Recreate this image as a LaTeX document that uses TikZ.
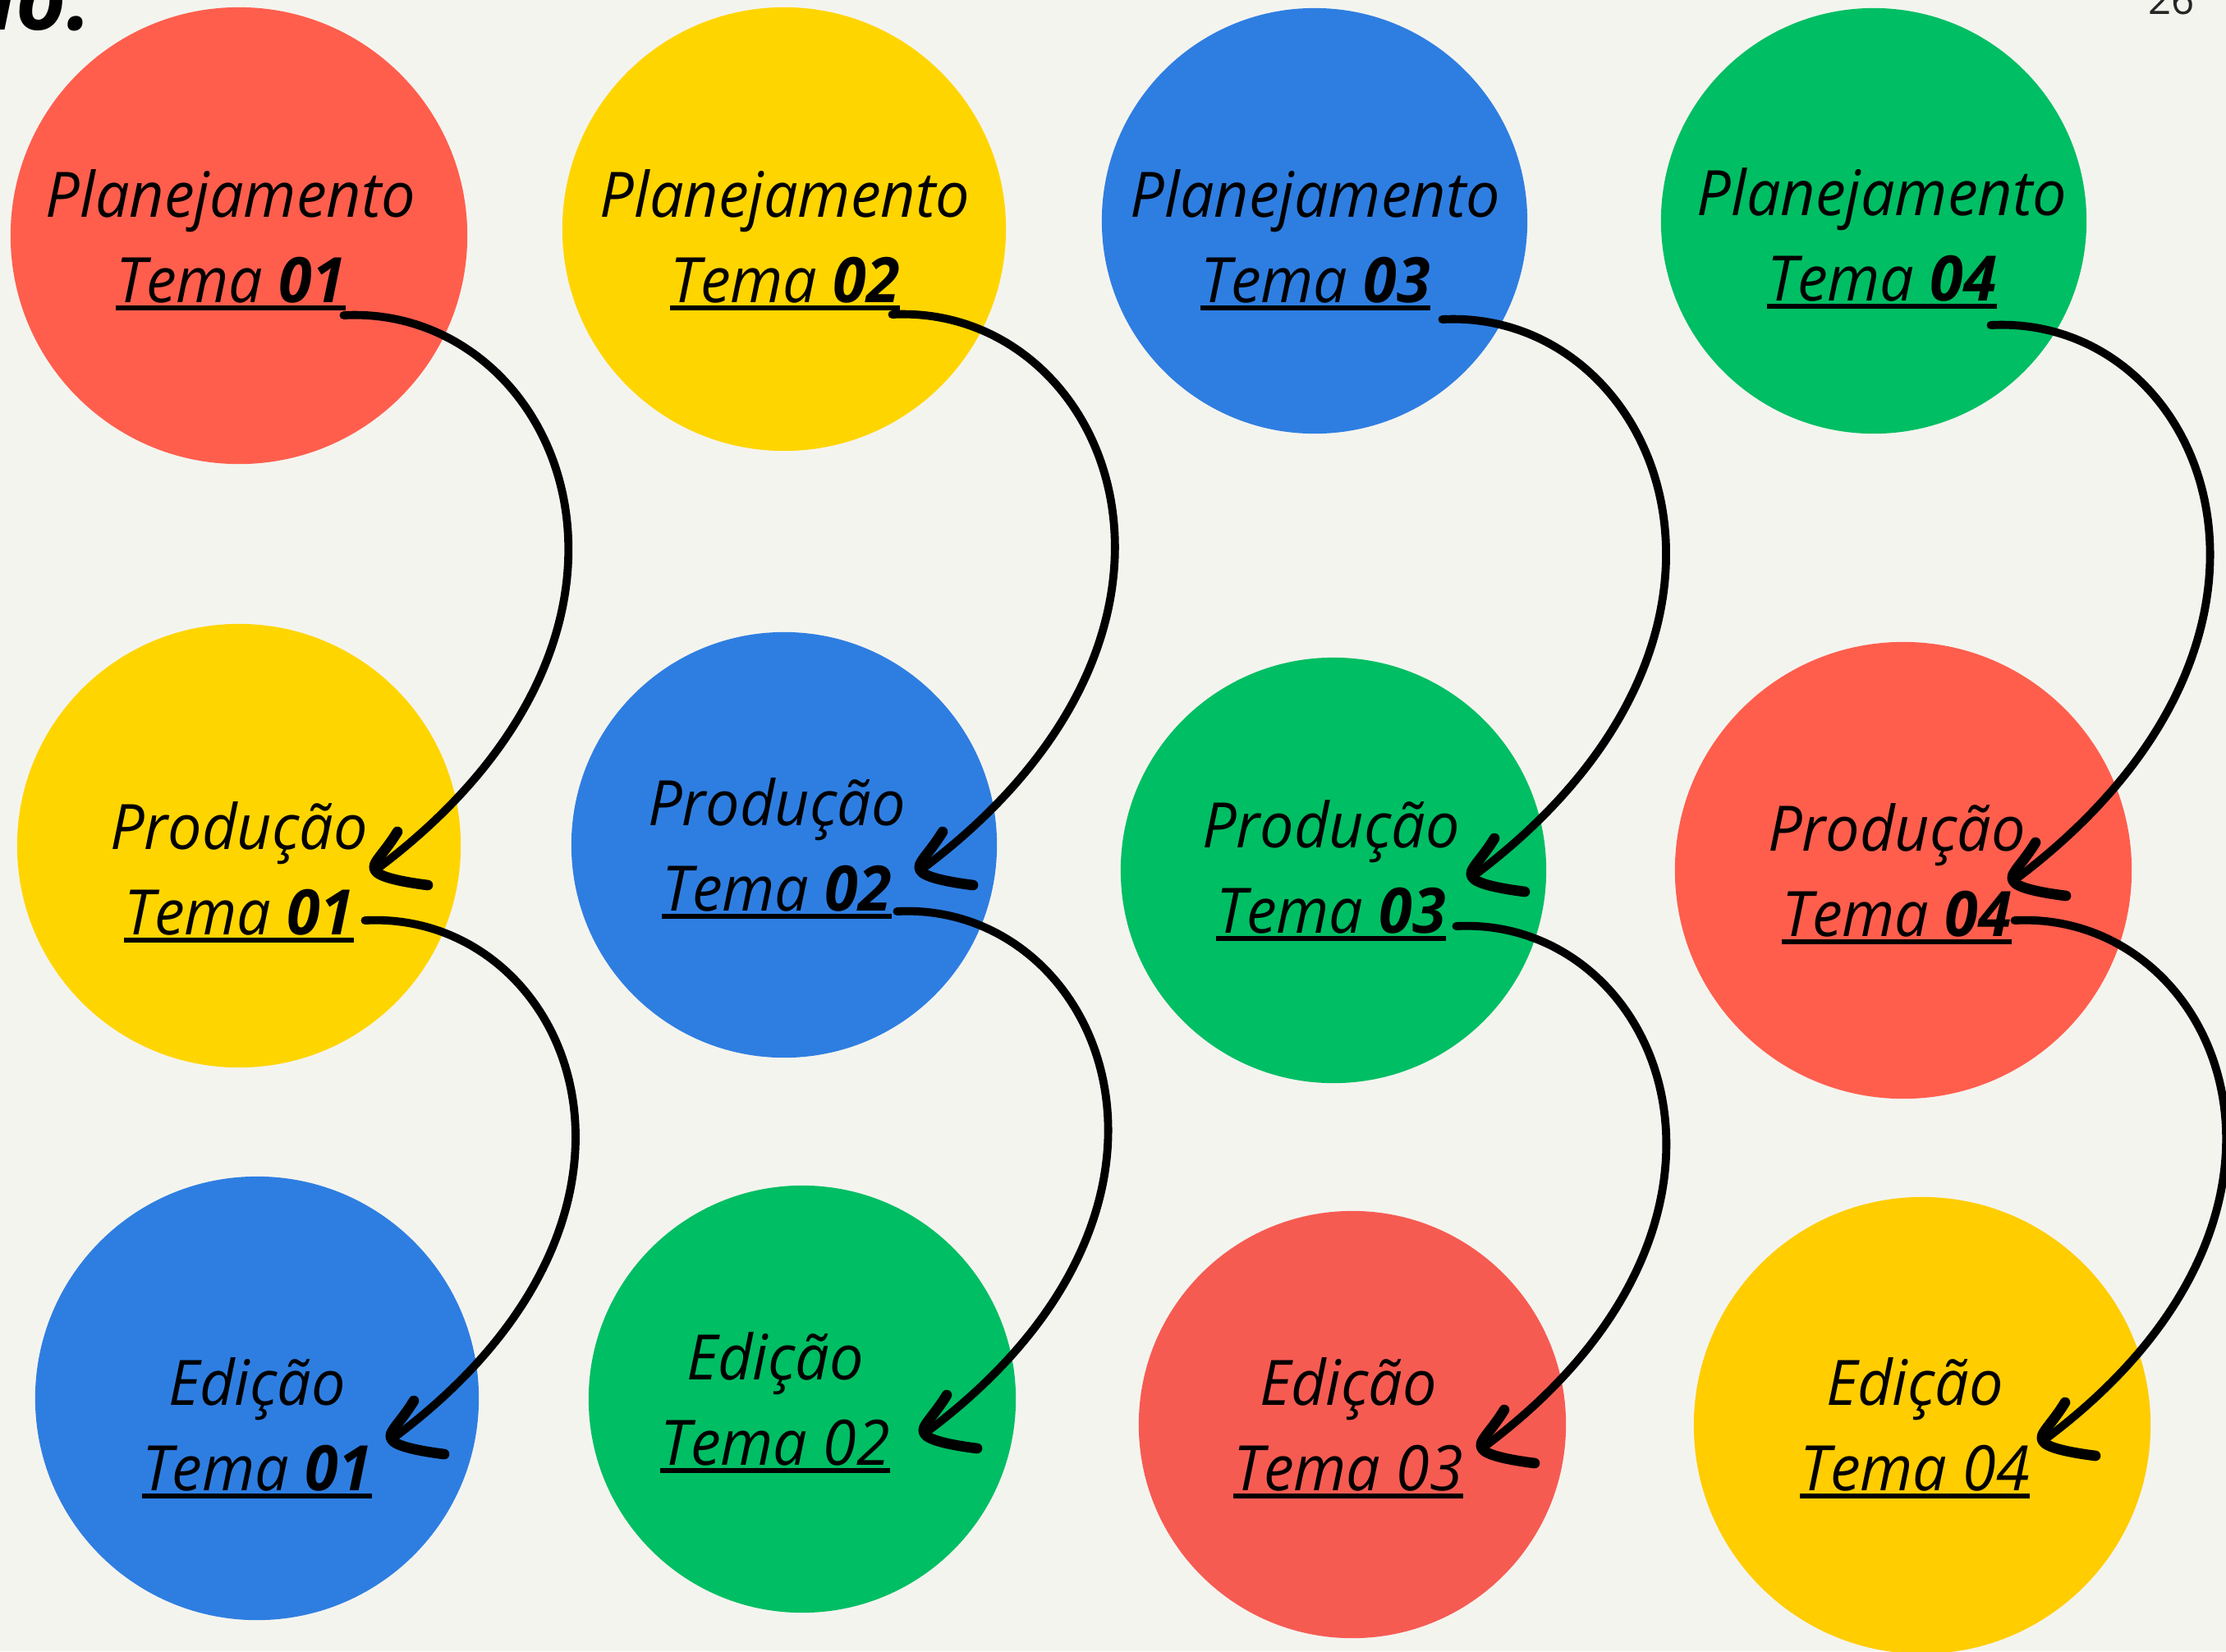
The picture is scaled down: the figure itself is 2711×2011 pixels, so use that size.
\documentclass[tikz,border=0pt]{standalone}
\usepackage{fontspec}
\setmainfont{Open Sans}[FakeStretch=0.965]
\newfontfamily\pagfont{Open Sans}
\usepackage{tikz}
\usetikzlibrary{positioning}

\definecolor{fundo}{HTML}{F4F4EF}
\definecolor{vermelho}{HTML}{FF5E4D}
\definecolor{vermelhob}{HTML}{F65B52}
\definecolor{amarelo}{HTML}{FFD500}
\definecolor{amarelob}{HTML}{FFCD00}
\definecolor{azul}{HTML}{2E7EE1}
\definecolor{verde}{HTML}{00BE63}

% sublinhado grosso
\newcommand{\sublinha}[1]{\setbox0=\hbox{#1}\rlap{\rule[-0.10cm]{\wd0}{0.06cm}}\box0}

\begin{document}
\begin{tikzpicture}[
    x=0.01cm, y=-0.01cm,
    disco/.style={circle, inner sep=0pt},
    txt/.style={anchor=base, inner sep=0pt, font=\itshape\fontsize{21.7}{26}\selectfont},
    seta/.style={draw, line width=2.8pt, line cap=round},
    farpa/.style={draw, line width=3.6pt, line cap=round, line join=round},
    ponta/.pic={\draw[farpa] (27,-47) .. controls (10,-19) and (-6,-8) .. (0,0) .. controls (4,8) and (32,14) .. (64,18);}
]
\useasboundingbox (0,0) rectangle (2711,2011);
\fill[fundo] (0,0) rectangle (2711,2011);

% Titulo e pagina
\node[anchor=base east, inner sep=0pt, font=\bfseries\itshape\fontsize{31}{36}\selectfont] (titulo) at (112,36) {ão.};
\node[anchor=base east, inner sep=0pt, text=black!85, font=\pagfont\fontsize{14}{16}\selectfont] (pagina) at (2673,17) {26};

% Circulos
\node[disco, fill=vermelho, minimum size=5.56cm] (c11) at (291,287) {};
\node[disco, fill=amarelo, minimum size=5.40cm] (c12) at (955,279) {};
\node[disco, fill=azul, minimum size=5.18cm] (c13) at (1601,269) {};
\node[disco, fill=verde, minimum size=5.18cm] (c14) at (2282,269) {};
\node[disco, fill=amarelo, minimum size=5.40cm] (c21) at (291,1030) {};
\node[disco, fill=azul, minimum size=5.18cm] (c22) at (955,1029) {};
\node[disco, fill=verde, minimum size=5.18cm] (c23) at (1624,1060) {};
\node[disco, fill=vermelho, minimum size=5.56cm] (c24) at (2318,1060) {};
\node[disco, fill=azul, minimum size=5.40cm] (c31) at (313,1703) {};
\node[disco, fill=verde, minimum size=5.20cm] (c32) at (977,1704) {};
\node[disco, fill=vermelhob, minimum size=5.20cm] (c33) at (1647,1735) {};
\node[disco, fill=amarelob, minimum size=5.56cm] (c34) at (2341,1736) {};

% Textos
\node[txt] (p1) at (281,264) {Planejamento};
\node[txt] (t11) at (281,368) {\sublinha{Tema \textbf{01}}};
\node[txt] (p2) at (956,264) {Planejamento};
\node[txt] (t12) at (956,368) {\sublinha{Tema \textbf{02}}};
\node[txt] (p3) at (1602,264) {Planejamento};
\node[txt] (t13) at (1602,368) {\sublinha{Tema \textbf{03}}};
\node[txt] (p4) at (2292,262) {Planejamento};
\node[txt] (t14) at (2292,366) {\sublinha{Tema \textbf{04}}};

\node[txt] (r1) at (291,1034) {Produção};
\node[txt] (t21) at (291,1138) {\sublinha{Tema \textbf{01}}};
\node[txt] (r2) at (946,1005) {Produção};
\node[txt] (t22) at (946,1109) {\sublinha{Tema \textbf{02}}};
\node[txt] (r3) at (1621,1032) {Produção};
\node[txt] (t23) at (1621,1136) {\sublinha{Tema \textbf{03}}};
\node[txt] (r4) at (2310,1036) {Produção};
\node[txt] (t24) at (2310,1140) {\sublinha{Tema \textbf{04}}};

\node[txt] (d1) at (313,1711) {Edição};
\node[txt] (t31) at (313,1815) {\sublinha{Tema \textbf{01}}};
\node[txt] (d2) at (944,1680) {Edição};
\node[txt] (t32) at (944,1784) {\sublinha{Tema 02}};
\node[txt] (d3) at (1642,1711) {Edição};
\node[txt] (t33) at (1642,1815) {\sublinha{Tema 03}};
\node[txt] (d4) at (2332,1711) {Edição};
\node[txt] (t34) at (2332,1815) {\sublinha{Tema 04}};

% Pontas das setas
\coordinate (e1) at (457,1060);
\coordinate (e2) at (1121,1060);
\coordinate (e3) at (1793,1068);
\coordinate (e4) at (2452,1073);
\coordinate (f1) at (477,1753);
\coordinate (f2) at (1126,1746);
\coordinate (f3) at (1805,1764);
\coordinate (f4) at (2488,1755);

% Setas planejamento -> producao
\path[seta] ([shift={(-3,16)}]t11.base east) .. controls +(262,-14) and +(400,-298) .. (e1);
\path[seta] ([shift={(-10,15)}]t12.base east) .. controls +(262,-14) and +(400,-298) .. (e2);
\path[seta] ([shift={(14,21)}]t13.base east) .. controls +(262,-14) and +(400,-298) .. (e3);
\path[seta] ([shift={(-8,30)}]t14.base east) .. controls +(262,-14) and +(400,-298) .. (e4);

% Setas producao -> edicao
\path[seta] ([shift={(13,-17)}]t21.base east) .. controls +(248,-13) and +(378,-280) .. (f1);
\path[seta] ([shift={(6,1)}]t22.base east) .. controls +(248,-13) and +(378,-280) .. (f2);
\path[seta] ([shift={(12,-8)}]t23.base east) .. controls +(248,-13) and +(378,-280) .. (f3);
\path[seta] ([shift={(3,-19)}]t24.base east) .. controls +(248,-13) and +(378,-280) .. (f4);

\pic at (e1) {ponta};
\pic at (e2) {ponta};
\pic at (e3) {ponta};
\pic at (e4) {ponta};
\pic at (f1) {ponta};
\pic at (f2) {ponta};
\pic at (f3) {ponta};
\pic at (f4) {ponta};

\end{tikzpicture}
\end{document}
